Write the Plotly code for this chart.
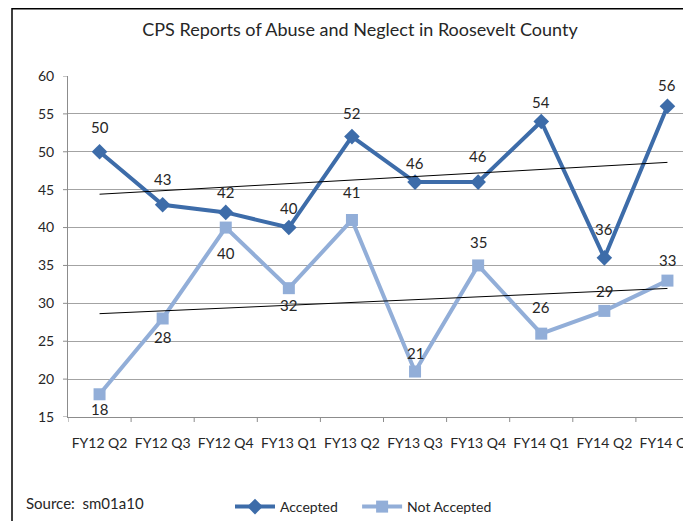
import numpy as np
import plotly.graph_objects as go

categories = ["FY12 Q2", "FY12 Q3", "FY12 Q4", "FY13 Q1", "FY13 Q2",
              "FY13 Q3", "FY13 Q4", "FY14 Q1", "FY14 Q2", "FY14 Q3"]
accepted = [50, 43, 42, 40, 52, 46, 46, 54, 36, 56]
not_accepted = [18, 28, 40, 32, 41, 21, 35, 26, 29, 33]
y_ticks = [15, 20, 25, 30, 35, 40, 45, 50, 55, 60]

# data-label offsets in px (style): positive = above the point, negative = below
acc_label_dy = [25, 26, 20, 20, 24, 19, 26, 19, 29, 21]
nacc_label_dy = [-15, -19, -25, -17, 28, 19, 23, 27, 20, 21]

OFF = 8  # page body margin
W, H = 691, 521
L, R, T, B = 60, 0, 68, 112
PW, PH = W - L - R, H - T - B

def px_x(x):  # page pixel -> paper
    return (x - OFF - L) / PW

def px_y(y):
    return 1 - (y - OFF - T) / PH

ACC_C = "#3D6CA9"
NACC_C = "#92AED8"
GRID_C = "#A3A3A3"
AXIS_C = "#8C8C8C"
FONT = "Lato"
TXT = "#262626"
NB = "\u00a0"

xi = np.arange(len(categories))
ta = np.polyval(np.polyfit(xi, accepted, 1), xi)
tn = np.polyval(np.polyfit(xi, not_accepted, 1), xi)

fig = go.Figure()
fig.add_trace(go.Scatter(x=categories, y=accepted, name="Accepted" + NB * 4,
                         mode="lines+markers",
                         line=dict(color=ACC_C, width=4),
                         marker=dict(symbol="diamond", size=12, color=ACC_C)))
fig.add_trace(go.Scatter(x=categories, y=not_accepted, name="Not Accepted",
                         mode="lines+markers",
                         line=dict(color=NACC_C, width=4),
                         marker=dict(symbol="square", size=12, color=NACC_C)))
fig.add_trace(go.Scatter(x=[categories[0], categories[-1]], y=[ta[0], ta[-1]],
                         mode="lines", line=dict(color="black", width=1),
                         showlegend=False, hoverinfo="skip"))
fig.add_trace(go.Scatter(x=[categories[0], categories[-1]], y=[tn[0], tn[-1]],
                         mode="lines", line=dict(color="black", width=1),
                         showlegend=False, hoverinfo="skip"))

annotations = []
for c, v, d in zip(categories, accepted, acc_label_dy):
    annotations.append(dict(x=c, y=v, text=str(v), showarrow=False,
                            yshift=d, font=dict(family=FONT, size=15, color=TXT)))
for c, v, d in zip(categories, not_accepted, nacc_label_dy):
    annotations.append(dict(x=c, y=v, text=str(v), showarrow=False,
                            yshift=d, font=dict(family=FONT, size=15, color=TXT)))

annotations.append(dict(xref="paper", yref="paper", x=px_x(24), y=px_y(503),
                        xanchor="left", yanchor="middle", showarrow=False,
                        text="Source:  sm01a10",
                        font=dict(family=FONT, size=15, color=TXT)))

# visible tick marks (the axes' own ticks are transparent and only space the labels)
shapes = []
for v in y_ticks:
    shapes.append(dict(type="line", xref="paper", yref="y", x0=-5 / PW, x1=0,
                       y0=v, y1=v, line=dict(color=AXIS_C, width=1)))
for i in range(len(categories) + 1):
    shapes.append(dict(type="line", xref="x", yref="paper", x0=i - 0.5, x1=i - 0.5,
                       y0=0, y1=-5 / PH, line=dict(color=AXIS_C, width=1)))
shapes.append(dict(type="rect", xref="paper", yref="paper",
                   x0=px_x(12), x1=px_x(730), y0=px_y(570), y1=1 + (T - 0.75) / PH,
                   line=dict(color="black", width=1.5), fillcolor="rgba(0,0,0,0)",
                   layer="above"))

fig.update_layout(
    width=W, height=H,
    margin=dict(l=L, r=R, t=T, b=B, autoexpand=False),
    paper_bgcolor="white", plot_bgcolor="white",
    title=dict(text="CPS Reports of Abuse and Neglect in Roosevelt County",
               x=px_x(360), xref="paper", xanchor="center",
               y=1 - (30 - OFF) / H, yanchor="middle",
               font=dict(family=FONT, size=18, color=TXT)),
    font=dict(family=FONT, size=14, color=TXT),
    showlegend=True,
    legend=dict(orientation="h", x=px_x(230), y=px_y(507),
                xanchor="left", yanchor="middle",
                font=dict(family=FONT, size=14, color=TXT),
                itemwidth=40, bgcolor="rgba(0,0,0,0)"),
    annotations=annotations,
    shapes=shapes,
)
fig.update_xaxes(type="category", range=[-0.5, -0.5 + PW / 63.1],
                 automargin=False, tickangle=0,
                 showgrid=False, showline=True, linecolor=AXIS_C, linewidth=1,
                 ticks="outside", ticklen=13, tickcolor="rgba(0,0,0,0)",
                 tickfont=dict(family=FONT, size=14, color=TXT))
fig.update_yaxes(range=[15, 60], tickmode="array", tickvals=y_ticks,
                 showgrid=True, automargin=False,
                 gridcolor=GRID_C, gridwidth=1.3, zeroline=False,
                 showline=True, linecolor=AXIS_C, linewidth=1,
                 ticks="outside", ticklen=10, tickcolor="rgba(0,0,0,0)",
                 tickfont=dict(family=FONT, size=14, color=TXT))

fig.write_html("out.html")
